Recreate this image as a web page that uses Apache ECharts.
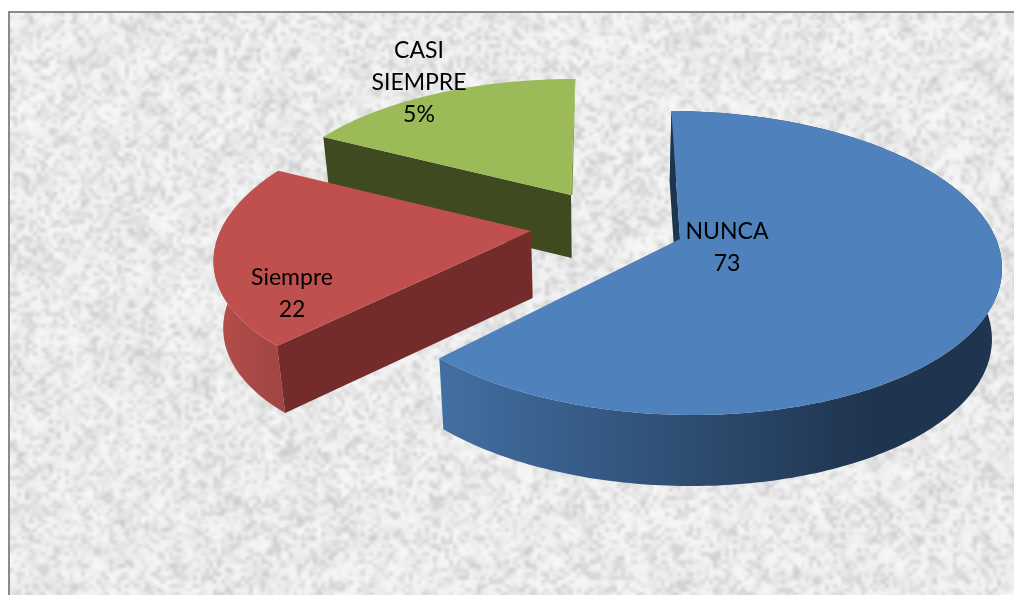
<!DOCTYPE html>
<html>
<head>
<meta charset="utf-8">
<style>html,body{margin:0;padding:0;background:#fff}#c{width:1014px;height:595px}</style>
<script src="https://cdn.jsdelivr.net/npm/echarts@6/dist/echarts.min.js"></script>
</head>
<body>
<div id="c"></div>
<script>
// Data
const categories = ['NUNCA', 'Siempre', 'CASI\nSIEMPRE'];
const shownValues = ['73', '22', '5%'];
const sliceShares = [62.3, 20.5, 17.2];

// Layout and styles, per slice
const sliceGeometry = [
  {x: 680, y: 239, a: 316, e: 11, b: 148.2, f: 0, k: -0.158, depth: 71, rot: 0.2, wall: true},
  {x: 531, y: 231, a: 315, e: 0, b: 143, f: -12, k: -0.125, depth: 67, rot: 3.3, wall: true},
  {x: 571, y: 195, a: 299, e: -4.5, b: 130, f: 0, k: -0.12, depth: 63, rot: 0, wall: false, edge: 1.5}
];
const labelAnchors = [[727, 248], [292, 294], [419, 83]];
const topColors = ['#4f81bd', '#c0504d', '#9bbb59'];
const faceColors = ['#1f344f', '#732c2b', '#3f4a20'];
const rimStops = [
  [[0, '#426fa2'], [1, '#1f344f']],
  [[0, '#b44e4b'], [1, '#a04442']],
  [[0, '#7d9c46'], [1, '#7d9c46']]
];
const rimRanges = [[441, 870], [215, 285], [323, 575]];
const VX = 600, VK = 0.025;

function makeTexture(w, h) {
  const hash = (x, y) => {
    const s = Math.sin(x * 127.1 + y * 311.7) * 43758.5453;
    return s - Math.floor(s);
  };
  const layer = (cell, amp, seed, out) => {
    const cw = Math.ceil(w / cell) + 2, ch = Math.ceil(h / cell) + 2;
    const n = document.createElement('canvas');
    n.width = cw; n.height = ch;
    const g = n.getContext('2d');
    const d = g.createImageData(cw, ch);
    for (let y = 0; y < ch; y++) for (let x = 0; x < cw; x++) {
      const p = (x + y * cw) * 4, r = hash(x + seed, y - seed);
      const dark = r < 0.45;
      d.data[p] = d.data[p + 1] = d.data[p + 2] = dark ? 165 : 255;
      d.data[p + 3] = Math.abs(r - 0.45) * 2 * amp * 255;
    }
    g.putImageData(d, 0, 0);
    out.imageSmoothingEnabled = true;
    out.imageSmoothingQuality = 'high';
    out.drawImage(n, 0, 0, cw * cell, ch * cell);
  };
  const c = document.createElement('canvas');
  c.width = w; c.height = h;
  const g = c.getContext('2d');
  g.fillStyle = '#efefef';
  g.fillRect(0, 0, w, h);
  layer(24, 0.1, 11.3, g);
  layer(9, 0.26, 37.9, g);
  layer(4, 0.38, 71.1, g);
  return c;
}

function rimPoint(s, deg) {
  const t = deg * Math.PI / 180, u = Math.sin(t), v = -Math.cos(t), w = 1 + s.k * v;
  return [s.x + (s.a * u + s.e * v) / w, s.y + (s.b * v + s.f * u) / w];
}
function lower(s, p) {
  return [p[0] + (VX - p[0]) * VK, p[1] + s.depth];
}
const total = sliceShares.reduce((m, v) => m + v, 0);

function renderSlice(params, api) {
  const i = params.dataIndex;
  const s = sliceGeometry[i];
  let before = 0;
  for (let j = 0; j < i; j++) before += sliceShares[j];
  const from = before / total * 360 + s.rot;
  const to = from + api.value(0) / total * 360;
  const rim = [];
  const steps = Math.ceil(to - from);
  for (let n = 0; n <= steps; n++) rim.push(rimPoint(s, from + (to - from) * n / steps));
  const apex = [s.x, s.y];
  const base = 10 - i * 3;
  const poly = (points, fill, z) => ({
    type: 'polygon', shape: {points}, style: {fill}, z2: base + z, silent: true
  });
  const face = p => [apex, p, lower(s, p), lower(s, apex)];
  const range = rimRanges[i];
  const rimFill = new echarts.graphic.LinearGradient(
    range[0], 0, range[1], 0,
    rimStops[i].map(st => ({offset: st[0], color: st[1]})), true);
  const children = [];
  if (s.wall) children.push(poly(rim.concat(rim.map(p => lower(s, p)).reverse()), rimFill, 0));
  children.push(poly(face(rim[0]), faceColors[i], 0.3));
  if (s.edge) {
    const end = rim[rim.length - 1];
    children.push(poly([end, apex, [apex[0] + s.edge, apex[1]], [end[0] + 0.3, end[1]]], rimStops[i][0][1], 0.5));
  }
  children.push(poly([apex].concat(rim), topColors[i], 1));
  children.push({
    type: 'text', silent: true, z2: 50,
    x: labelAnchors[i][0], y: labelAnchors[i][1],
    style: {
      text: categories[i] + '\n' + shownValues[i],
      fontFamily: 'Lato', fontSize: 23, lineHeight: 32,
      fill: '#000', align: 'center', verticalAlign: 'middle'
    }
  });
  return {type: 'group', children};
}

const chart = echarts.init(document.getElementById('c'), null, {renderer: 'canvas', width: 1014, height: 595});
chart.setOption({
  animation: false,
  backgroundColor: '#ffffff',
  graphic: [
    {type: 'image', silent: true, z: -5, x: 9, y: 12, style: {image: makeTexture(1005, 583), x: 0, y: 0, width: 1005, height: 583}},
    {type: 'rect', silent: true, z: -4, shape: {x: 8, y: 11, width: 1006, height: 2}, style: {fill: '#8a8a8a'}},
    {type: 'rect', silent: true, z: -4, shape: {x: 8, y: 11, width: 2, height: 584}, style: {fill: '#8a8a8a'}}
  ],
  series: [{
    type: 'custom',
    coordinateSystem: 'none',
    renderItem: renderSlice,
    data: sliceShares.map(v => [v])
  }]
});
</script>
</body>
</html>
